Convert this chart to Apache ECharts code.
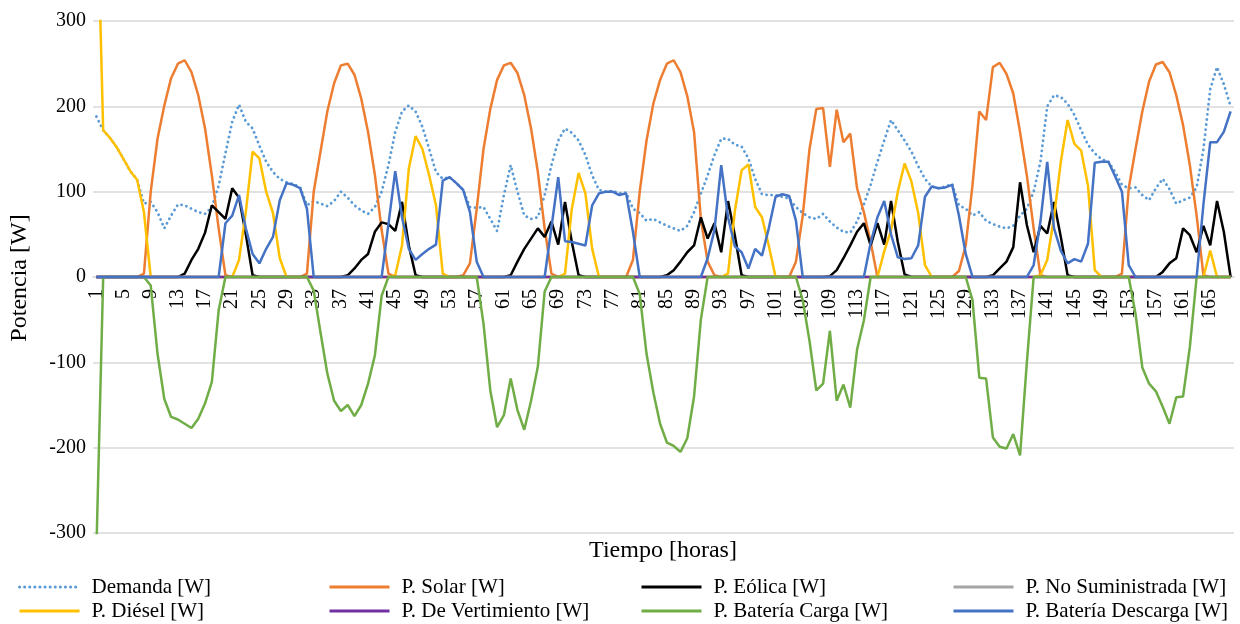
<!DOCTYPE html>
<html><head><meta charset="utf-8">
<script src="https://cdn.jsdelivr.net/npm/echarts@6/dist/echarts.min.js"></script>
<style>html,body{margin:0;padding:0;background:#fff}#c{width:1240px;height:624px}</style>
</head><body><div id="c"></div>
<script>
// ---- categories (hours 1..168) ----
const hours = [];
for (let i = 1; i <= 168; i++) hours.push(String(i));

// ---- series values (W) ----
const demand = [
188,172,163,152,138,124,114,86,88,76,
57,72,85,84,80,76,74,82,107,145,
182,202,182,174,154,135,123,115,111,109,
105,84,89,86,83,89,100,93,84,78,
74,82,100,131,170,194,201,194,176,150,
123,115,117,110,102,82,81,82,68,54,
96,131,100,72,68,70,96,131,160,174,
169,160,143,119,102,100,101,98,99,80,
75,66,68,64,60,57,54,60,76,98,
119,143,162,162,155,153,139,115,97,96,
96,94,92,82,75,70,68,74,65,58,
53,52,65,85,108,135,160,184,172,160,
147,130,115,106,104,106,109,84,80,72,
76,66,62,59,57,60,72,80,100,135,
200,213,211,203,190,172,155,145,138,135,
123,108,104,105,96,90,104,115,103,86,
90,93,105,150,220,246,226,200];

const solar = [
0,0,0,0,0,0,0,4,100,162,
201,233,250,254,240,213,174,119,57,2,
0,0,0,0,0,0,0,0,0,0,
0,4,100,147,194,227,248,250,237,209,
170,120,55,4,0,0,0,0,0,0,
0,0,0,0,2,16,80,150,197,231,
248,251,239,213,174,123,57,4,0,0,
0,0,0,0,0,0,0,0,0,20,
100,160,203,231,250,254,240,212,170,68,
18,2,0,0,0,0,0,0,0,0,
0,0,0,18,72,150,197,198,129,196,
158,168,104,76,41,0,0,0,0,0,
0,0,0,0,0,0,0,7,37,108,
194,184,246,251,238,215,170,119,57,2,
0,0,0,0,0,0,0,0,0,0,
0,4,104,150,194,229,249,252,240,213,
178,131,72,2,0,0,0,0];

const wind = [
0,0,0,0,0,0,0,0,0,0,
0,0,0,4,20,33,52,84,76,68,
104,93,50,2,0,0,0,0,0,0,
0,0,0,0,0,0,0,2,10,20,
27,53,64,62,54,88,37,2,0,0,
0,0,0,0,0,0,0,0,0,0,
0,2,18,33,45,57,47,65,38,88,
41,2,0,0,0,0,0,0,0,0,
0,0,0,0,2,8,18,29,37,70,
45,63,29,89,49,2,0,0,0,0,
0,0,0,0,0,0,0,0,1,8,
22,37,53,63,37,63,38,89,41,3,
0,0,0,0,0,0,0,0,0,0,
0,0,2,10,18,35,111,61,29,60,
51,88,47,2,0,0,0,0,0,0,
0,0,0,0,0,0,0,6,16,22,
57,49,29,60,37,89,53,0];

const notSupplied = new Array(168).fill(0);

const diesel = [
480,172,163,152,138,124,114,76,0,0,
0,0,0,0,0,0,0,0,0,0,
0,20,76,147,139,100,75,22,0,0,
0,0,0,0,0,0,0,0,0,0,
0,0,0,0,2,37,127,165,150,119,
84,4,0,0,0,0,0,0,0,0,
0,0,0,0,0,0,0,0,0,4,
80,122,98,33,0,0,0,0,0,0,
0,0,0,0,0,0,0,0,0,0,
0,0,0,4,77,125,132,82,70,37,
0,0,0,0,0,0,0,0,0,0,
0,0,0,0,0,0,30,55,100,133,
112,75,14,0,0,0,0,0,0,0,
0,0,0,0,0,0,0,0,0,2,
20,70,135,184,156,148,107,8,0,0,
0,0,0,0,0,0,0,0,0,0,
0,0,0,0,31,0,0,0];

const dumped = new Array(168).fill(0);

const batteryCharge = [
-320,0,0,0,0,0,0,0,-10,-90,
-143,-164,-167,-172,-177,-166,-148,-123,-39,0,
0,0,0,0,0,0,0,0,0,0,
0,0,-16,-65,-113,-145,-157,-150,-163,-150,
-125,-92,-22,0,0,0,0,0,0,0,
0,0,0,0,0,0,0,-55,-133,-176,
-162,-119,-156,-179,-145,-105,-17,0,0,0,
0,0,0,0,0,0,0,0,0,0,
-20,-90,-135,-172,-194,-198,-205,-189,-140,-50,
0,0,0,0,0,0,0,0,0,0,
0,0,0,0,-27,-75,-133,-125,-63,-145,
-126,-153,-85,-51,0,0,0,0,0,0,
0,0,0,0,0,0,0,0,0,-27,
-118,-119,-188,-199,-201,-184,-209,-100,0,0,
0,0,0,0,0,0,0,0,0,0,
0,0,0,-43,-106,-125,-134,-152,-172,-141,
-140,-82,0,0,0,0,0,0];

const batteryDischarge = [
0,0,0,0,0,0,0,0,0,0,
0,0,0,0,0,0,0,0,0,63,
72,96,57,27,16,33,47,90,110,108,
104,80,0,0,0,0,0,0,0,0,
0,0,0,62,124,70,33,20,27,33,
38,113,117,110,102,76,18,0,0,0,
0,0,0,0,0,0,0,58,117,42,
41,39,37,84,98,100,100,96,98,53,
0,0,0,0,0,0,0,0,0,0,
22,55,131,70,36,29,10,33,25,57,
94,97,95,66,0,0,0,0,0,0,
0,0,0,0,40,70,89,50,23,21,
22,37,94,106,104,105,108,72,27,0,
0,0,0,0,0,0,0,0,14,65,
135,57,31,16,21,18,39,134,135,135,
118,100,14,0,0,0,0,0,0,0,
0,0,0,85,158,158,170,194];

// ---- axis settings ----
const yMin = -300, yMax = 300, yStep = 100;
const FONT = "'Liberation Serif','Times New Roman',serif";
const GRID = {left: 93, right: 6, top: 21, bottom: 91};
const plotHeight = 624 - GRID.top - GRID.bottom;
// place the category axis at the value 0 of the value axis
const zeroOffset = -plotHeight * (0 - yMin) / (yMax - yMin);

const chart = echarts.init(document.getElementById('c'), null, {renderer: 'canvas'});

function line(name, data, color, extraStyle) {
  return {
    name: name, type: 'line', data: data,
    symbol: 'none', showSymbol: false,
    itemStyle: {color: color},
    lineStyle: Object.assign({color: color, width: 2.5}, extraStyle || {}),
    emphasis: {disabled: true},
    animation: false
  };
}

function legendCol(left, names) {
  return {
    orient: 'vertical', left: left, top: 575, padding: 0,
    itemWidth: 60, itemHeight: 14, itemGap: 0,
    itemStyle: {opacity: 0},
    lineStyle: {width: 3},
    data: names,
    textStyle: {fontFamily: FONT, fontSize: 21, color: '#000', lineHeight: 24, padding: [0, 0, 0, 7]}
  };
}

chart.setOption({
  backgroundColor: '#fff',
  animation: false,
  grid: Object.assign({containLabel: false}, GRID),
  legend: [
    legendCol(18, ['Demanda [W]', 'P. Diésel [W]']),
    legendCol(328, ['P. Solar [W]', 'P. De Vertimiento [W]']),
    legendCol(640, ['P. Eólica [W]', 'P. Batería Carga [W]']),
    legendCol(952, ['P. No Suministrada [W]', 'P. Batería Descarga [W]'])
  ],
  xAxis: {
    type: 'category', data: hours, boundaryGap: true,
    offset: zeroOffset,
    axisTick: {show: false},
    axisLine: {onZero: false, lineStyle: {color: '#d9d9d9', width: 1.5}},
    axisLabel: {interval: 3, rotate: 90, margin: 12, fontFamily: FONT, fontSize: 20, color: '#000'},
    splitLine: {show: false}
  },
  yAxis: {
    type: 'value', min: yMin, max: yMax, interval: yStep,
    axisLine: {show: false}, axisTick: {show: false},
    axisLabel: {margin: 7, fontFamily: FONT, fontSize: 20, color: '#000'},
    splitLine: {lineStyle: {color: '#d9d9d9', width: 1.5}}
  },
  graphic: [
    {type: 'text', x: 20, y: 278, rotation: Math.PI / 2,
     style: {text: 'Potencia [W]', fill: '#000', font: '24px ' + FONT,
             textAlign: 'center', textVerticalAlign: 'middle', align: 'center', verticalAlign: 'middle'}},
    {type: 'text', x: 663, y: 551,
     style: {text: 'Tiempo [horas]', fill: '#000', font: '24px ' + FONT,
             textAlign: 'center', textVerticalAlign: 'middle', align: 'center', verticalAlign: 'middle'}}
  ],
  series: [
    line('Demanda [W]', demand, '#5B9BD5', {type: [0.1, 5], cap: 'round', width: 2.8}),
    line('P. Solar [W]', solar, '#ED7D31'),
    line('P. Eólica [W]', wind, '#000000'),
    line('P. No Suministrada [W]', notSupplied, '#A5A5A5'),
    line('P. Diésel [W]', diesel, '#FFC000'),
    line('P. De Vertimiento [W]', dumped, '#7030A0'),
    line('P. Batería Carga [W]', batteryCharge, '#70AD47'),
    line('P. Batería Descarga [W]', batteryDischarge, '#4472C4')
  ]
});
</script>
</body></html>
